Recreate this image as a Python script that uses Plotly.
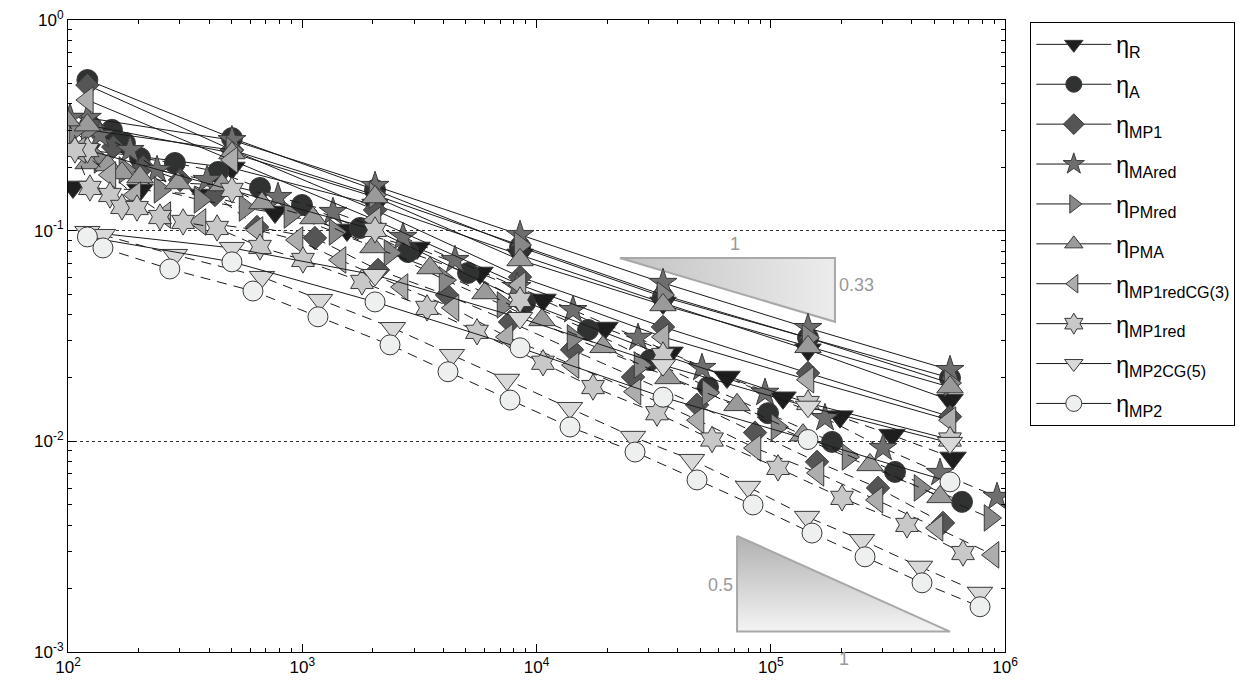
import numpy as np
import plotly.graph_objects as go

# ---------------- data ----------------
# uniform refinement: common numbers of degrees of freedom
N_UNIFORM = [121, 501, 2045, 8505, 34680, 144200, 582400]

ETA_R_UNI = [0.2415, 0.1984, 0.1324, 0.0767, 0.0454, 0.0272, 0.0157]
ETA_A_UNI = [0.519, 0.275, 0.1561, 0.0837, 0.0485, 0.031, 0.020]
ETA_MP1_UNI = [0.491, 0.2415, 0.1254, 0.0603, 0.0349, 0.0211, 0.0131]
ETA_MARED_UNI = [0.343, 0.269, 0.1631, 0.0954, 0.0565, 0.0345, 0.0218]
ETA_PMRED_UNI = [0.301, 0.2415, 0.1477, 0.0855, 0.0495, 0.031, 0.0189]
ETA_PMA_UNI = [0.317, 0.2337, 0.1445, 0.0726, 0.0444, 0.0281, 0.0181]
ETA_MP1REDCG_UNI = [0.417, 0.2166, 0.1124, 0.0553, 0.0313, 0.0196, 0.0126]
ETA_MP1RED_UNI = [0.2415, 0.1561, 0.1008, 0.0469, 0.0257, 0.0152, 0.0102]
ETA_MP2CG_UNI = [0.0986, 0.0828, 0.0616, 0.0385, 0.023, 0.0146, 0.00983]
ETA_MP2_UNI = [0.0934, 0.0711, 0.0459, 0.0278, 0.0162, 0.0102, 0.00642]

# adaptive refinement
N_R_ADA = [105, 203, 377, 765, 1553, 3090, 5739, 10660, 19610, 37150, 65070, 112800, 197500, 329400, 599800]
ETA_R_ADA = [0.1613, 0.1561, 0.1477, 0.1227, 0.1008, 0.0828, 0.063, 0.0469, 0.0345, 0.0263, 0.0202, 0.0161, 0.0131, 0.0107, 0.00834]

N_A_ADA = [124, 154, 175, 203, 286, 437, 660, 997, 1764, 2828, 5101, 8931, 16590, 30520, 53970, 97340, 182600, 339200, 655300]
ETA_A_ADA = [0.317, 0.301, 0.261, 0.2213, 0.2096, 0.19, 0.1595, 0.1324, 0.103, 0.0792, 0.063, 0.0454, 0.0338, 0.0243, 0.0181, 0.0136, 0.00994, 0.00716, 0.00516]

N_MP1_ADA = [128, 156, 209, 301, 424, 641, 1133, 2106, 4149, 7709, 14180, 25830, 48450, 85670, 157600, 287000, 543700]
ETA_MP1_ADA = [0.311, 0.2496, 0.2006, 0.174, 0.1477, 0.1041, 0.0923, 0.0651, 0.0495, 0.0369, 0.0272, 0.0202, 0.0149, 0.011, 0.00799, 0.00601, 0.0041]

N_MARED_ADA = [102, 137, 184, 240, 392, 788, 1353, 2692, 4488, 8257, 14320, 27130, 50870, 94520, 170400, 301500, 527900, 924600]
ETA_MARED_ADA = [0.343, 0.285, 0.2415, 0.1941, 0.174, 0.1445, 0.1227, 0.0934, 0.0726, 0.054, 0.042, 0.031, 0.0223, 0.017, 0.0129, 0.0093, 0.00708, 0.00545]

N_PMRED_ADA = [107, 137, 175, 247, 366, 570, 886, 1380, 2369, 4069, 7194, 14320, 27670, 53970, 106300, 213700, 433700, 863000]
ETA_PMRED_ADA = [0.301, 0.2166, 0.1941, 0.1561, 0.1398, 0.1281, 0.1187, 0.0986, 0.0784, 0.0583, 0.0444, 0.031, 0.023, 0.017, 0.0117, 0.00843, 0.00601, 0.00433]

N_PMA_ADA = [99, 122, 148, 170, 203, 295, 454, 673, 1111, 2005, 3511, 6029, 10557, 19230, 36420, 71780, 137300, 265300, 527900]
ETA_PMA_ADA = [0.335, 0.2096, 0.205, 0.1879, 0.1799, 0.1684, 0.1648, 0.1353, 0.1149, 0.0837, 0.0665, 0.0506, 0.0377, 0.0281, 0.020, 0.0149, 0.0107, 0.00773, 0.00545]

N_MP1REDCG_ADA = [112, 151, 193, 259, 366, 641, 950, 1450, 2667, 4401, 7481, 14320, 26340, 48930, 85670, 159100, 284200, 512600, 888900]
ETA_MP1REDCG_ADA = [0.2415, 0.1838, 0.1477, 0.1187, 0.11, 0.1008, 0.0903, 0.0726, 0.054, 0.043, 0.0313, 0.023, 0.0172, 0.0126, 0.0093, 0.00708, 0.00527, 0.00388, 0.00289]

N_MP1RED_ADA = [107, 124, 151, 170, 197, 247, 310, 433, 660, 1007, 1799, 3409, 5572, 10660, 17430, 32700, 56150, 107400, 201500, 381600, 661800]
ETA_MP1RED_ADA = [0.2415, 0.1595, 0.1477, 0.1296, 0.1281, 0.1161, 0.11, 0.103, 0.0837, 0.0726, 0.0571, 0.043, 0.0331, 0.0236, 0.0181, 0.0136, 0.0102, 0.00748, 0.00539, 0.00401, 0.00295]

N_MP2CG_ADA = [141, 286, 673, 1191, 2440, 4358, 7481, 13900, 25830, 46120, 79990, 142800, 245200, 433700, 782300]
ETA_MP2CG_ADA = [0.0954, 0.0767, 0.0603, 0.0469, 0.0345, 0.0257, 0.0196, 0.0144, 0.0105, 0.00816, 0.00608, 0.00438, 0.0034, 0.00254, 0.00191]

N_MP2_ADA = [141, 272, 616, 1167, 2369, 4190, 7709, 13900, 26340, 48450, 84000, 150000, 252600, 442300, 782300]
ETA_MP2_ADA = [0.0828, 0.0658, 0.0517, 0.039, 0.0287, 0.0214, 0.0157, 0.0117, 0.0089, 0.00656, 0.00499, 0.00367, 0.00283, 0.00213, 0.00164]

LABELS = ["η<sub>R</sub>", "η<sub>A</sub>", "η<sub>MP1</sub>", "η<sub>MAred</sub>", "η<sub>PMred</sub>",
          "η<sub>PMA</sub>", "η<sub>MP1redCG(3)</sub>", "η<sub>MP1red</sub>", "η<sub>MP2CG(5)</sub>", "η<sub>MP2</sub>"]

UNI = [ETA_R_UNI, ETA_A_UNI, ETA_MP1_UNI, ETA_MARED_UNI, ETA_PMRED_UNI, ETA_PMA_UNI,
       ETA_MP1REDCG_UNI, ETA_MP1RED_UNI, ETA_MP2CG_UNI, ETA_MP2_UNI]
ADA_N = [N_R_ADA, N_A_ADA, N_MP1_ADA, N_MARED_ADA, N_PMRED_ADA, N_PMA_ADA,
         N_MP1REDCG_ADA, N_MP1RED_ADA, N_MP2CG_ADA, N_MP2_ADA]
ADA = [ETA_R_ADA, ETA_A_ADA, ETA_MP1_ADA, ETA_MARED_ADA, ETA_PMRED_ADA, ETA_PMA_ADA,
       ETA_MP1REDCG_ADA, ETA_MP1RED_ADA, ETA_MP2CG_ADA, ETA_MP2_ADA]

X_TICKS = [1e2, 1e3, 1e4, 1e5, 1e6]
X_TICK_TEXT = ["10<sup>2</sup>", "10<sup>3</sup>", "10<sup>4</sup>", "10<sup>5</sup>", "10<sup>6</sup>"]
Y_TICKS = [1e-3, 1e-2, 1e-1, 1e0]
Y_TICK_TEXT = ["10<sup>-3</sup>", "10<sup>-2</sup>", "10<sup>-1</sup>", "10<sup>0</sup>"]
X_MINOR = [m * 10.0 ** e for e in range(2, 6) for m in range(2, 10)]
Y_MINOR = [m * 10.0 ** e for e in range(-3, 0) for m in range(2, 10)]

# slope triangles: (left N, right N, level eta, slope)
TRI_UPPER = dict(n0=22700, n1=188000, eta=0.0742, slope=0.33)
TRI_LOWER = dict(n0=71800, n1=582400, eta=0.00125, slope=0.5)

# ---------------- styles ----------------
SYMBOLS = ["triangle-down", "circle", "diamond", "star", "triangle-right", "triangle-up",
           "triangle-left", "hexagram", "triangle-down", "circle"]
COLORS = ["#1e1e1e", "#303232", "#555555", "#6e6e6e", "#888888", "#9a9a9a",
          "#adadad", "#c8c8c8", "#d9d9d9", "#eef0f0"]
SIZES = [23, 21, 18, 21, 23, 23, 23, 20, 22, 20]
EDGE = "#3a3a3a"
LINE = "#1a1a1a"
FONT = "Liberation Sans, Arial"

fig = go.Figure()

# slope triangles (drawn first, under the data)
t = TRI_UPPER
top_right = t["eta"] * (t["n1"] / t["n0"]) ** (-t["slope"])
fig.add_trace(go.Scatter(
    x=[t["n0"], t["n1"], t["n1"], t["n0"]], y=[t["eta"], t["eta"], top_right, t["eta"]],
    mode="lines", fill="toself", line=dict(color="#a8a8a8", width=2),
    fillgradient=dict(type="horizontal", colorscale=[[0, "#c2c2c2"], [1, "#ececec"]]),
    showlegend=False, hoverinfo="skip"))
t = TRI_LOWER
tip = t["eta"] * (t["n1"] / t["n0"]) ** (t["slope"])
fig.add_trace(go.Scatter(
    x=[t["n0"], t["n0"], t["n1"], t["n0"]], y=[tip, t["eta"], t["eta"], tip],
    mode="lines", fill="toself", line=dict(color="#a8a8a8", width=2),
    fillgradient=dict(type="vertical", colorscale=[[0, "#f4f4f4"], [1, "#b0b0b0"]]),
    showlegend=False, hoverinfo="skip"))

for i in range(len(LABELS)):
    marker = dict(symbol=SYMBOLS[i], color=COLORS[i], size=SIZES[i], line=dict(color=EDGE, width=1))
    fig.add_trace(go.Scatter(
        x=N_UNIFORM, y=UNI[i], mode="lines+markers", name=LABELS[i], legendgroup=str(i),
        line=dict(color=LINE, width=1), marker=marker, showlegend=True))
    fig.add_trace(go.Scatter(
        x=ADA_N[i], y=ADA[i], mode="lines+markers", name=LABELS[i], legendgroup=str(i),
        line=dict(color=LINE, width=1, dash="10px,7px"), marker=marker, showlegend=False))

ann_font = dict(family=FONT, size=18, color="#999999")
annots = [
    dict(x=np.log10(np.sqrt(TRI_UPPER["n0"] * TRI_UPPER["n1"]) * 1.08), y=np.log10(TRI_UPPER["eta"]),
         text="1", yanchor="bottom", yshift=2),
    dict(x=np.log10(TRI_UPPER["n1"]), y=np.log10(TRI_UPPER["eta"]) - 0.13,
         text="0.33", xanchor="left", xshift=2),
    dict(x=np.log10(TRI_LOWER["n0"]), y=np.log10(TRI_LOWER["eta"]) + 0.22,
         text="0.5", xanchor="right", xshift=-2),
    dict(x=np.log10(np.sqrt(TRI_LOWER["n0"] * TRI_LOWER["n1"])), y=np.log10(TRI_LOWER["eta"]),
         text="1", yanchor="top", yshift=-15),
]
for a in annots:
    fig.add_annotation(xref="x", yref="y", showarrow=False, font=ann_font, **a)

axis_common = dict(
    type="log", showline=True, linecolor="black", linewidth=1, mirror="allticks",
    ticks="inside", ticklen=8, tickcolor="black", automargin=False, ticklabeloverflow="allow",
    tickfont=dict(family=FONT, size=17, color="black"),
    zeroline=False,
)

# the page adds an 8px body margin, so the figure is 8px smaller and margins shifted
fig.update_layout(
    width=1238, height=680,
    margin=dict(l=60, r=241, t=12, b=36, autoexpand=False),
    plot_bgcolor="white", paper_bgcolor="white",
    xaxis=dict(range=[2, 6], showgrid=False, tickvals=X_TICKS, ticktext=X_TICK_TEXT,
               minor=dict(tickvals=X_MINOR, ticks="inside", ticklen=4, tickcolor="black", showgrid=False),
               **axis_common),
    yaxis=dict(range=[-3, 0], showgrid=True, gridcolor="#333333", griddash="dot", gridwidth=1,
               tickvals=Y_TICKS, ticktext=Y_TICK_TEXT,
               minor=dict(tickvals=Y_MINOR, ticks="inside", ticklen=4, tickcolor="black", showgrid=False),
               **axis_common),
    legend=dict(x=1.027, xanchor="left", y=0.997, yanchor="top",
                bordercolor="black", borderwidth=1, bgcolor="white",
                font=dict(family=FONT, size=23, color="black"),
                itemwidth=75, tracegroupgap=7, itemsizing="trace"),
    showlegend=True,
)

fig.write_html("out.html")
